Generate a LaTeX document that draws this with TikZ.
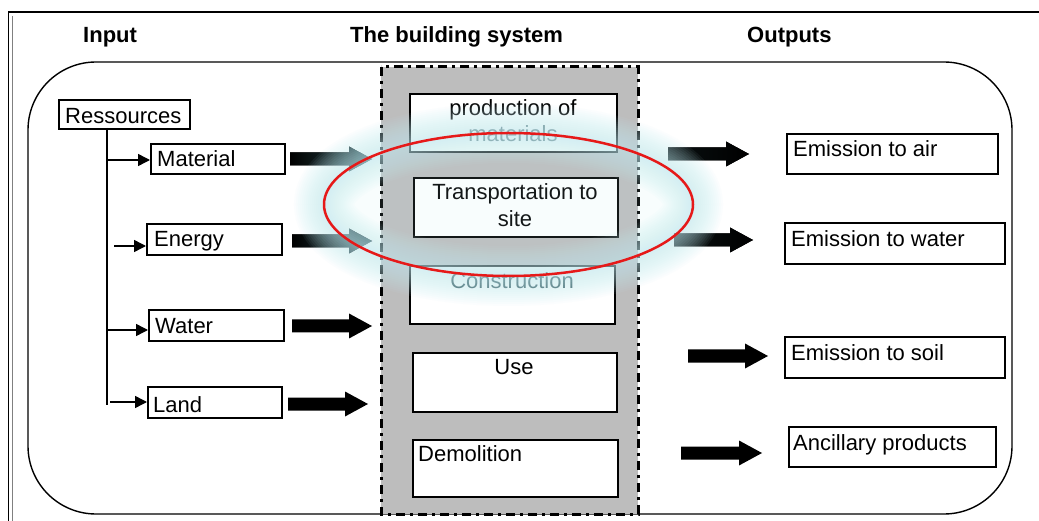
\documentclass[tikz,border=0pt]{standalone}
\usepackage{fontspec}
\setmainfont{Liberation Sans}
\usetikzlibrary{arrows.meta,shapes.geometric}
\definecolor{glow}{RGB}{195,236,243}
\definecolor{tealtip}{RGB}{45,80,84}
\definecolor{redring}{RGB}{230,25,25}
\newcommand\fatarr[4][black]{%
  \fill[#1] (#2,#4-6.5) -- (#3-23,#4-6.5) -- (#3-23,#4-12.5) -- (#3,#4) -- (#3-23,#4+12.5) -- (#3-23,#4+6.5) -- (#2,#4+6.5) -- cycle;}
\begin{document}
\begin{tikzpicture}[x=1pt,y=-1pt,
  font=\fontsize{22}{27}\selectfont,
  box/.style={draw=black, line width=2pt, fill=white, inner sep=0pt, anchor=north west},
  lbl/.style={inner sep=0pt, anchor=base west},
  clbl/.style={inner sep=0pt, anchor=base},
  hdr/.style={inner sep=0pt, anchor=base west, font=\fontsize{22}{27}\selectfont\bfseries},
  thinarr/.style={line width=1.5pt, -{Triangle[length=12pt,width=12pt]}},
  ddot/.style={line width=3pt, dash pattern=on 9pt off 5pt on 3pt off 5pt}]
\useasboundingbox (0,0) rectangle (1039,521);
\fill[white] (0,0) rectangle (1039,521);
% outer frame
\draw[line width=1.6pt] (1045,12) -- (8.5,12) -- (8.5,530);
\draw[line width=0.8pt, gray] (12,16) -- (12,530);
% headers
\node[hdr] (hin) at (83,43) {Input};
\node[hdr] (hsys) at (350,43) {The building system};
\node[hdr] (hout) at (747,43) {Outputs};
% rounded container
\draw[line width=1.4pt, rounded corners=68pt] (28,62) rectangle (1012,514);
% building system band
\fill[gray!52] (381,67) rectangle (638,514);
\draw[ddot] (381,67) rectangle (638,514);
% system boxes
\node[box, minimum width=207, minimum height=58] (b1) at (409,93) {};
\node[box, minimum width=204, minimum height=59] (b2) at (413,177) {};
\node[box, minimum width=205, minimum height=58] (b3) at (409,265) {};
\node[box, minimum width=204, minimum height=59] (b4) at (412,352) {};
\node[box, minimum width=205, minimum height=57] (b5) at (412,439) {};
\node[clbl] (t1) at (513,116) {production of};
\node[clbl, text=tealtip!80!white] (t1b) at (513,142) {materials};
\node[clbl] (t2) at (515,200) {Transportation to};
\node[clbl] (t2b) at (515,227) {site};
\node[clbl, text=tealtip] (t3) at (512,289) {Construction};
\node[clbl] (t4) at (514,374) {Use};
\node[lbl] (t5) at (418,461) {Demolition};
% input boxes
\node[box, minimum width=131, minimum height=29] (res) at (58,99) {};
\node[lbl] at (65,124) {Ressources};
\node[box, minimum width=134, minimum height=30] (mat) at (150,143) {};
\node[lbl] at (157,167) {Material};
\node[box, minimum width=135, minimum height=31] (ene) at (146,223) {};
\node[lbl] at (154,247) {Energy};
\node[box, minimum width=135, minimum height=31] (wat) at (148,309) {};
\node[lbl] at (155,334) {Water};
\node[box, minimum width=134, minimum height=31] (lan) at (147,386) {};
\node[lbl] at (153,412) {Land};
% tree
\coordinate (trunk) at (107,128);
\coordinate (trunkend) at (107,405);
\draw[line width=1.5pt] (trunk) -- (trunkend);
\draw[thinarr] (107,160) -- (mat.west |- 0,160);
\draw[thinarr] (114,246) -- (ene.west |- 0,246);
\draw[thinarr] (107,330) -- (wat.west |- 0,330);
\draw[thinarr] (110,402) -- (lan.west |- 0,402);
% output boxes
\node[box, minimum width=211, minimum height=40] (oair) at (786,133) {};
\node[lbl] at (793,157) {Emission to air};
\node[box, minimum width=220, minimum height=41] (owat) at (784,222) {};
\node[lbl] at (791,247) {Emission to water};
\node[box, minimum width=220, minimum height=41] (osoil) at (784,336) {};
\node[lbl] at (791,360) {Emission to soil};
\node[box, minimum width=207, minimum height=40] (oanc) at (788,426) {};
\node[lbl] at (793,450) {Ancillary products};
% fat arrows
\fatarr[left color=black,right color=tealtip,shading=axis]{290}{372}{159}
\fatarr[left color=black,right color=tealtip,shading=axis]{292}{372}{241}
\fatarr{292}{372}{326}
\fatarr{288}{368}{404}
\fatarr[left color=black!80!tealtip,right color=black]{668}{749}{154}
\fatarr[left color=black!80!tealtip,right color=black]{674}{753}{240}
\fatarr{688}{768}{356}
\fatarr{681}{762}{453}
% glow and red ellipse
\fill[glow, opacity=0.10] (508.5,204.5) ellipse [x radius=184.5, y radius=71.5];
\foreach \w in {60,56,...,4}{
  \draw[glow, opacity=0.06, line width=\w pt] (508.5,204.5) ellipse [x radius=184.5, y radius=71.5];
}
\node[draw=redring, line width=2.5pt, ellipse, minimum width=369, minimum height=143, inner sep=0pt] (ring) at (508.5,204.5) {};
\end{tikzpicture}
\end{document}
